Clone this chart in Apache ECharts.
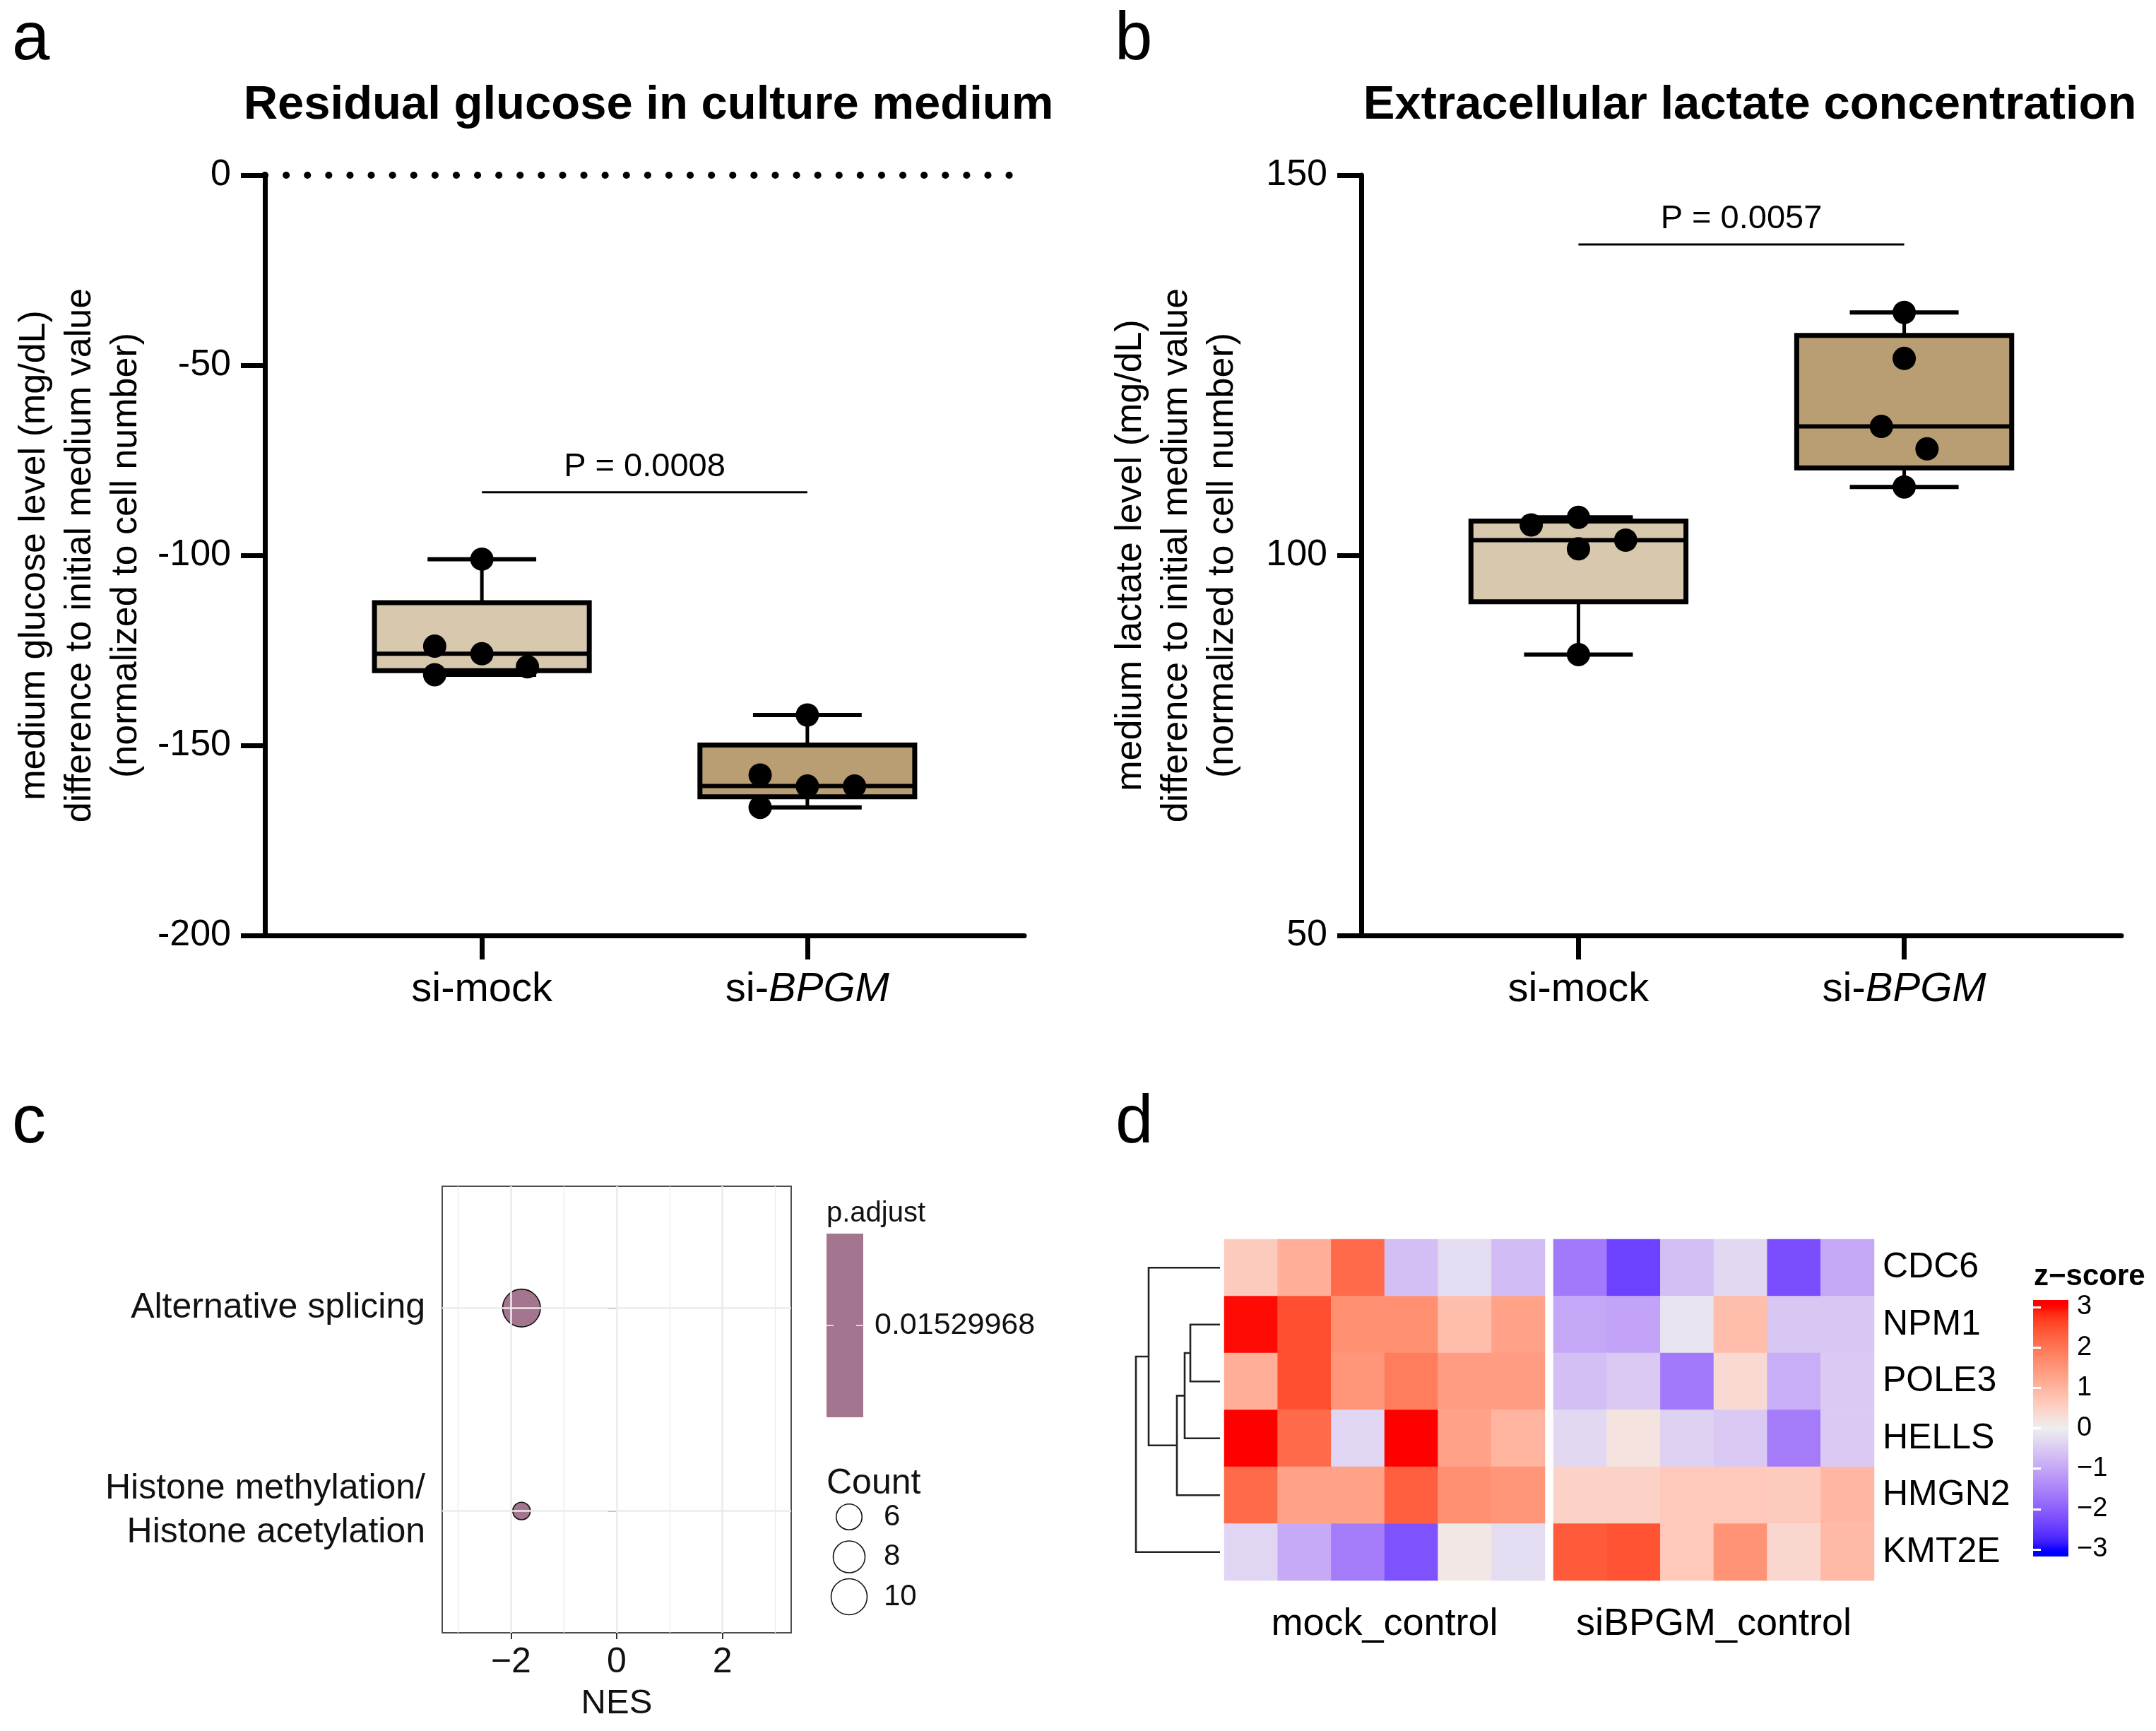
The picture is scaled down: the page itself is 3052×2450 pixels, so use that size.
<!DOCTYPE html>
<html lang="en">
<head>
<meta charset="UTF-8">
<title>BPGM knockdown: glucose, lactate, GSEA, heatmap</title>
<script src="https://cdn.jsdelivr.net/npm/echarts@6/dist/echarts.min.js"></script>
<style>
    *{
        padding:0;
        margin:0;
    }
    html,body{
        background:#fff;
    }
    #main{
        width:3052px;
        height:2450px;
    }
</style>
</head>
<body>
<div id="main"></div>
<script>
    // ---------- data ----------
    var groups = ['si-mock', 'si-BPGM'];

    // panel a: residual glucose (mg/dL difference)
    var glucoseMock = [-101, -123.9, -125.9, -129.3, -131.4];
    var glucoseBPGM = [-142, -157.8, -160.7, -160.7, -166.3];
    var glucoseMockJitter = [0, -0.145, 0, 0.14, -0.145];
    var glucoseBPGMJitter = [0, -0.145, 0, 0.145, -0.145];
    var glucoseP = ['P = 0.0008'];
    var glucosePBar = [[1, 2, -83.4]];

    // panel b: extracellular lactate
    var lactateMock = [105, 104, 102, 100.85, 86.95];
    var lactateBPGM = [131.95, 125.9, 116.95, 114, 109];
    var lactateMockJitter = [0, -0.145, 0.145, 0, 0];
    var lactateBPGMJitter = [0, 0, -0.07, 0.07, 0];
    var lactateP = ['P = 0.0057'];
    var lactatePBar = [[1, 2, 140.9]];

    // panel c: GSEA dot plot (bottom level first)
    var terms = ['Histone methylation/\nHistone acetylation', 'Alternative splicing'];
    var termNES = [-1.8, -1.8];
    var termCount = [5, 11];
    var termPadj = 0.01529968;
    var countBreaks = [6, 8, 10];
    var nesTicks = [-2, 0, 2];
    var nesMinor = [-3, -1, 1, 3];

    // panel d: z-score heatmap
    var genes = ['CDC6', 'NPM1', 'POLE3', 'HELLS', 'HMGN2', 'KMT2E'];
    var mockZ = [
        [0.6, 1.1, 2.15, -0.65, -0.25, -0.7],
        [2.95, 2.5, 1.6, 1.6, 0.85, 1.3],
        [1.1, 2.5, 1.5, 1.9, 1.4, 1.4],
        [3.0, 2.15, -0.35, 3.0, 1.3, 1.0],
        [2.15, 1.3, 1.3, 2.3, 1.6, 1.5],
        [-0.35, -0.95, -1.6, -2.2, 0.1, -0.25]
    ];
    var siZ = [
        [-1.65, -2.4, -0.65, -0.3, -2.25, -1.0],
        [-1.0, -1.05, -0.15, 0.85, -0.55, -0.55],
        [-0.65, -0.5, -1.65, 0.35, -0.9, -0.5],
        [-0.3, 0.2, -0.4, -0.5, -1.6, -0.5],
        [0.5, 0.5, 0.65, 0.65, 0.6, 0.95],
        [2.35, 2.45, 0.65, 1.55, 0.4, 0.9]
    ];
    // [left node, right node, height]; leaves are row indices, new nodes get 6, 7, ...
    var dendroMerges = [[1, 2, 4.2], [6, 3, 5.0], [7, 4, 6.1], [0, 8, 10.1], [9, 5, 11.9]];
    var zTicks = [-3, -2, -1, 0, 1, 2, 3];

    // ---------- helpers ----------
    var FONT = 'Liberation Sans';
    var MINUS = '\u2212';

    function quantile(sorted, p) {
        var pos = (sorted.length + 1) * p - 1;
        pos = Math.max(0, Math.min(sorted.length - 1, pos));
        var lo = Math.floor(pos), hi = Math.ceil(pos);
        return sorted[lo] + (sorted[hi] - sorted[lo]) * (pos - lo);
    }
    function boxStats(x, vals) {
        var s = vals.slice().sort(function (a, b) { return a - b; });
        return [x, quantile(s, 0.25), quantile(s, 0.5), quantile(s, 0.75), s[0], s[s.length - 1]];
    }
    function jittered(x, vals, jit) {
        return vals.map(function (v, i) { return [x + jit[i], v]; });
    }

    // colorRamp2 style LAB interpolation blue - grey - red
    function toLab(hex) {
        var c = [1, 3, 5].map(function (k) {
            var v = parseInt(hex.substr(k, 2), 16) / 255;
            return v <= 0.04045 ? v / 12.92 : Math.pow((v + 0.055) / 1.055, 2.4);
        });
        var X = (0.4124 * c[0] + 0.3576 * c[1] + 0.1805 * c[2]) / 0.95047;
        var Y = 0.2126 * c[0] + 0.7152 * c[1] + 0.0722 * c[2];
        var Z = (0.0193 * c[0] + 0.1192 * c[1] + 0.9505 * c[2]) / 1.08883;
        function f(t) { return t > 0.008856 ? Math.cbrt(t) : 7.787 * t + 16 / 116; }
        return [116 * f(Y) - 16, 500 * (f(X) - f(Y)), 200 * (f(Y) - f(Z))];
    }
    function fromLab(lab) {
        var fy = (lab[0] + 16) / 116, fx = fy + lab[1] / 500, fz = fy - lab[2] / 200;
        function finv(t) { return t > 0.206897 ? t * t * t : (t - 16 / 116) / 7.787; }
        var X = finv(fx) * 0.95047, Y = finv(fy), Z = finv(fz) * 1.08883;
        var rgb = [3.2406 * X - 1.5372 * Y - 0.4986 * Z,
                   -0.9689 * X + 1.8758 * Y + 0.0415 * Z,
                   0.0557 * X - 0.2040 * Y + 1.0570 * Z];
        return '#' + rgb.map(function (v) {
            v = Math.max(0, v);
            v = v <= 0.0031308 ? 12.92 * v : 1.055 * Math.pow(v, 1 / 2.4) - 0.055;
            v = Math.round(Math.min(1, v) * 255);
            return (v < 16 ? '0' : '') + v.toString(16);
        }).join('');
    }
    var zBreaks = [-3, 0, 3];
    var zLabs = ['#0000FF', '#EEEEEE', '#FF0000'].map(toLab);
    function zColor(v) {
        v = Math.max(zBreaks[0], Math.min(zBreaks[2], v));
        var k = v <= 0 ? 0 : 1;
        var t = (v - zBreaks[k]) / (zBreaks[k + 1] - zBreaks[k]);
        var a = zLabs[k], b = zLabs[k + 1];
        return fromLab([a[0] + (b[0] - a[0]) * t, a[1] + (b[1] - a[1]) * t, a[2] + (b[2] - a[2]) * t]);
    }
    var zStops = [];
    for (var s = 0; s <= 24; s++) zStops.push(zColor(-3 + s * 0.25));

    function countSize(c) {
        var lo = Math.min.apply(null, termCount), hi = Math.max.apply(null, termCount);
        var sz = 1 + 5 * Math.sqrt((c - lo) / (hi - lo));
        return 5.75 * sz + 19;
    }

    function heatData(mat) {
        var out = [];
        mat.forEach(function (row, r) {
            row.forEach(function (v, c) { out.push([c, r, v]); });
        });
        return out;
    }

    // dendrogram segments [hLeft, yLeft, hRight, yRight, h]
    var nodeY = genes.map(function (g, i) { return i; });
    var nodeH = genes.map(function () { return 0; });
    var dendroSegs = [];
    dendroMerges.forEach(function (m) {
        dendroSegs.push([nodeH[m[0]], nodeY[m[0]], nodeH[m[1]], nodeY[m[1]], m[2]]);
        nodeY.push((nodeY[m[0]] + nodeY[m[1]]) / 2);
        nodeH.push(m[2]);
    });

    // ---------- layout ----------
    var BOX_HALF = 0.33, CAP_HALF = 0.167;
    var boxFill = ['#D8C9AE', '#B89E72'];
    var GA = {left: 375, top: 248, width: 1075, height: 1076};
    var GB = {left: 1927, top: 248, width: 1076, height: 1076};
    var GC = {left: 626, top: 1679, width: 494, height: 632};
    var GDEN = {left: 1608, top: 1754, width: 119, height: 483};
    var GMOCK = {left: 1733, top: 1754, width: 454, height: 483};
    var GSI = {left: 2199, top: 1754, width: 454, height: 483};
    var GBAR = {left: 2878, top: 1840, width: 50, height: 363};
    var BAR_EXT = 3.175;

    function renderBox(params, api) {
        var x = api.value(0), q1 = api.value(1), med = api.value(2), q3 = api.value(3),
            lo = api.value(4), hi = api.value(5);
        var tl = api.coord([x - BOX_HALF, q3]), br = api.coord([x + BOX_HALF, q1]);
        function seg(x1, y1, x2, y2, w) {
            var a = api.coord([x1, y1]), b = api.coord([x2, y2]);
            return {type: 'line', shape: {x1: a[0], y1: a[1], x2: b[0], y2: b[1]},
                    style: {stroke: '#000', lineWidth: w}};
        }
        return {type: 'group', children: [
            seg(x, q3, x, hi, 5),
            seg(x, q1, x, lo, 5),
            seg(x - CAP_HALF, hi, x + CAP_HALF, hi, 6),
            seg(x - CAP_HALF, lo, x + CAP_HALF, lo, 6),
            {type: 'rect', shape: {x: tl[0], y: tl[1], width: br[0] - tl[0], height: br[1] - tl[1]},
             style: {fill: boxFill[params.dataIndex], stroke: '#000', lineWidth: 7}},
            seg(x - BOX_HALF, med, x + BOX_HALF, med, 6)
        ]};
    }
    function sigRenderer(labels) {
        return function (params, api) {
            var a = api.coord([api.value(0), api.value(2)]), b = api.coord([api.value(1), api.value(2)]);
            return {type: 'group', children: [
                {type: 'line', shape: {x1: a[0], y1: a[1], x2: b[0], y2: b[1]}, style: {stroke: '#000', lineWidth: 3}},
                {type: 'text', x: (a[0] + b[0]) / 2, y: a[1] - 36,
                 style: {text: labels[params.dataIndex], fontSize: 47, fontFamily: FONT, fill: '#000',
                         align: 'center', verticalAlign: 'middle'}}
            ]};
        };
    }
    function renderDendro(params, api) {
        var p1 = api.coord([api.value(0), api.value(1)]), p2 = api.coord([api.value(4), api.value(1)]),
            p3 = api.coord([api.value(4), api.value(3)]), p4 = api.coord([api.value(2), api.value(3)]);
        return {type: 'polyline', shape: {points: [p1, p2, p3, p4]},
                style: {stroke: '#222', lineWidth: 2.6, fill: null}};
    }

    function boxXAxis(grid) {
        return {
            gridIndex: grid, type: 'value', min: 1 / 3, max: 8 / 3,
            splitLine: {show: false},
            axisLine: {onZero: false, lineStyle: {color: '#000', width: 7}},
            axisTick: {customValues: [1, 2], length: 34, lineStyle: {color: '#000', width: 7}},
            axisLabel: {
                customValues: [1, 2], margin: 48,
                formatter: function (v) {
                    var name = groups[Math.round(v) - 1];
                    var parts = name.split('-');
                    return parts[1] === 'mock' ? '{n|' + name + '}' : '{n|' + parts[0] + '-}{i|' + parts[1] + '}';
                },
                rich: {
                    n: {fontSize: 58, fontFamily: FONT, color: '#000'},
                    i: {fontSize: 58, fontFamily: FONT, color: '#000', fontStyle: 'italic'}
                }
            }
        };
    }
    function boxYAxis(grid, min, max, name) {
        return {
            gridIndex: grid, type: 'value', min: min, max: max, interval: 50,
            splitLine: {show: false},
            axisLine: {show: true, lineStyle: {color: '#000', width: 7}},
            axisTick: {show: true, length: 34, lineStyle: {color: '#000', width: 7}},
            axisLabel: {fontSize: 52, fontFamily: FONT, color: '#000', margin: 48},
            name: name, nameLocation: 'middle', nameRotate: 90, nameGap: 164,
            nameTextStyle: {fontSize: 52, lineHeight: 65, fontFamily: FONT, color: '#000', align: 'center'}
        };
    }
    function hidden(grid, extra) {
        var ax = {gridIndex: grid, show: false};
        for (var k in extra) ax[k] = extra[k];
        return ax;
    }
    function minusFmt(v) { return v < 0 ? MINUS + Math.abs(v) : String(v); }

    var cGridLines = nesTicks.map(function (v) { return {xAxis: v, lineStyle: {width: 2.6}}; })
        .concat(nesMinor.map(function (v) { return {xAxis: v, lineStyle: {width: 1.3}}; }))
        .concat(terms.map(function (t, i) { return {yAxis: i + 1, lineStyle: {width: 2.6}}; }));

    var barStops = [];
    for (var k = 0; k <= 64; k++) barStops.push({offset: k / 64, color: zColor(BAR_EXT - 2 * BAR_EXT * k / 64)});

    var countLegend = [];
    countBreaks.forEach(function (c, i) {
        var cy = 2147 + i * 56.5;
        countLegend.push({type: 'circle', shape: {cx: 1202, cy: cy, r: countSize(c) / 2},
                          style: {fill: '#fff', stroke: '#111', lineWidth: 1.6}});
        countLegend.push({type: 'text', x: 1251, y: cy,
                          style: {text: String(c), fontSize: 42, fontFamily: FONT, fill: '#111', verticalAlign: 'middle'}});
    });

    function letter(t, left, top) {
        return {text: t, left: left, top: top, padding: 0,
                textStyle: {fontSize: 96, fontWeight: 'normal', fontFamily: FONT, color: '#000'}};
    }
    function plotTitle(t, cx) {
        return {text: t, left: cx, top: 116, padding: 0, textAlign: 'center',
                textStyle: {fontSize: 67, fontWeight: 'bold', fontFamily: FONT, color: '#000'}};
    }

    var myChart = echarts.init(document.getElementById('main'), null, {renderer: 'canvas'});
    var option = {
        backgroundColor: '#fff',
        animation: false,
        textStyle: {fontFamily: FONT},
        title: [
            letter('a', 17, 10), letter('b', 1578, 10), letter('c', 17, 1543), letter('d', 1579, 1543),
            plotTitle('Residual glucose in culture medium', 918),
            plotTitle('Extracellular lactate concentration', 2477),
            {text: 'z' + MINUS + 'score', left: 2879, top: 1786, padding: 0,
             textStyle: {fontSize: 42, fontWeight: 'bold', fontFamily: FONT, color: '#000'}}
        ],
        grid: [GA, GB, GC, GDEN, GMOCK, GSI, GBAR].map(function (g, i) {
            var o = {left: g.left, top: g.top, width: g.width, height: g.height, outerBoundsMode: 'none'};
            if (i === 2) { o.show = true; o.borderColor = '#4D4D4D'; o.borderWidth = 2; o.backgroundColor = '#fff'; }
            return o;
        }),
        xAxis: [
            boxXAxis(0),
            boxXAxis(1),
            {
                gridIndex: 2, type: 'value', min: -3.3, max: 3.3,
                splitLine: {show: false}, axisLine: {show: false},
                axisTick: {show: true, customValues: nesTicks, length: 9, lineStyle: {color: '#333', width: 2}},
                axisLabel: {customValues: nesTicks, formatter: minusFmt, fontSize: 50, color: '#111', margin: 17},
                name: 'NES', nameLocation: 'middle', nameGap: 76,
                nameTextStyle: {fontSize: 49, color: '#111', fontFamily: FONT}
            },
            hidden(3, {type: 'value', min: 0, max: 11.9, inverse: true}),
            {
                gridIndex: 4, type: 'category', data: mockZ[0].map(function (v, i) { return String(i + 1); }),
                axisLine: {show: false}, axisTick: {show: false}, axisLabel: {show: false},
                name: 'mock_control', nameLocation: 'middle', nameGap: 35,
                nameTextStyle: {fontSize: 54, color: '#000', fontFamily: FONT}
            },
            {
                gridIndex: 5, type: 'category', data: siZ[0].map(function (v, i) { return String(i + 1); }),
                axisLine: {show: false}, axisTick: {show: false}, axisLabel: {show: false},
                name: 'siBPGM_control', nameLocation: 'middle', nameGap: 35,
                nameTextStyle: {fontSize: 54, color: '#000', fontFamily: FONT}
            },
            hidden(6, {type: 'value', min: 0, max: 1})
        ],
        yAxis: [
            boxYAxis(0, -200, 0, 'medium glucose level (mg/dL)\ndifference to initial medium value\n(normalized to cell number)'),
            boxYAxis(1, 50, 150, 'medium lactate level (mg/dL)\ndifference to initial medium value\n(normalized to cell number)'),
            {
                gridIndex: 2, type: 'value', min: 0.4, max: 2.6,
                splitLine: {show: false}, axisLine: {show: false},
                axisTick: {show: true, customValues: terms.map(function (t, i) { return i + 1; }), length: 12,
                           lineStyle: {color: '#333', width: 2}},
                axisLabel: {
                    customValues: terms.map(function (t, i) { return i + 1; }),
                    formatter: function (v) { return terms[Math.round(v) - 1]; },
                    fontSize: 50, lineHeight: 62, color: '#111', margin: 24, align: 'right'
                }
            },
            hidden(3, {type: 'value', min: -0.5, max: genes.length - 0.5, inverse: true}),
            {gridIndex: 4, type: 'category', data: genes, inverse: true,
             axisLine: {show: false}, axisTick: {show: false}, axisLabel: {show: false}},
            {gridIndex: 5, type: 'category', data: genes, inverse: true, position: 'right',
             axisLine: {show: false}, axisTick: {show: false},
             axisLabel: {fontSize: 50, color: '#000', margin: 12}},
            {gridIndex: 6, type: 'value', min: -BAR_EXT, max: BAR_EXT, position: 'right', z: 10,
             splitLine: {show: false}, axisLine: {show: false},
             axisTick: {customValues: zTicks, inside: true, length: 11, lineStyle: {color: '#fff', width: 3}},
             axisLabel: {customValues: zTicks, formatter: minusFmt, fontSize: 38, color: '#000', margin: 12}},
            {gridIndex: 6, type: 'value', min: -BAR_EXT, max: BAR_EXT, position: 'left', z: 10,
             splitLine: {show: false}, axisLine: {show: false}, axisLabel: {show: false},
             axisTick: {customValues: zTicks, inside: true, length: 11, lineStyle: {color: '#fff', width: 3}}}
        ],
        visualMap: [{
            type: 'continuous', show: false, min: -3, max: 3, seriesIndex: [10, 11],
            inRange: {color: zStops}
        }],
        graphic: [
            {type: 'rect', z: 1, shape: {x: GBAR.left, y: GBAR.top, width: GBAR.width, height: GBAR.height},
             style: {fill: new echarts.graphic.LinearGradient(0, 0, 0, 1, barStops)}},
            {type: 'text', x: 1170, y: 1718,
             style: {text: 'p.adjust', fontSize: 40, fontFamily: FONT, fill: '#111', verticalAlign: 'middle'}},
            {type: 'rect', shape: {x: 1170, y: 1746, width: 52, height: 260}, style: {fill: '#A4758F'}},
            {type: 'line', shape: {x1: 1170, y1: 1876, x2: 1180, y2: 1876}, style: {stroke: '#E8D8E0', lineWidth: 2}},
            {type: 'line', shape: {x1: 1212, y1: 1876, x2: 1222, y2: 1876}, style: {stroke: '#E8D8E0', lineWidth: 2}},
            {type: 'text', x: 1238, y: 1876,
             style: {text: String(termPadj), fontSize: 43, fontFamily: FONT, fill: '#111', verticalAlign: 'middle'}},
            {type: 'text', x: 1170, y: 2100,
             style: {text: 'Count', fontSize: 50, fontFamily: FONT, fill: '#111', verticalAlign: 'middle'}}
        ].concat(countLegend),
        series: [
            // panel a
            {type: 'custom', xAxisIndex: 0, yAxisIndex: 0, z: 2, renderItem: renderBox,
             data: [boxStats(1, glucoseMock), boxStats(2, glucoseBPGM)]},
            {type: 'scatter', xAxisIndex: 0, yAxisIndex: 0, z: 3, symbolSize: 33,
             itemStyle: {color: '#000', opacity: 1},
             data: jittered(1, glucoseMock, glucoseMockJitter).concat(jittered(2, glucoseBPGM, glucoseBPGMJitter)),
             markLine: {silent: true, symbol: 'none', label: {show: false},
                        lineStyle: {color: '#000', width: 10, type: [0.1, 30], cap: 'round', opacity: 1},
                        data: [{yAxis: 0}]}},
            {type: 'custom', xAxisIndex: 0, yAxisIndex: 0, z: 3, renderItem: sigRenderer(glucoseP), data: glucosePBar},
            // panel b
            {type: 'custom', xAxisIndex: 1, yAxisIndex: 1, z: 2, renderItem: renderBox,
             data: [boxStats(1, lactateMock), boxStats(2, lactateBPGM)]},
            {type: 'scatter', xAxisIndex: 1, yAxisIndex: 1, z: 3, symbolSize: 33,
             itemStyle: {color: '#000', opacity: 1},
             data: jittered(1, lactateMock, lactateMockJitter).concat(jittered(2, lactateBPGM, lactateBPGMJitter))},
            {type: 'custom', xAxisIndex: 1, yAxisIndex: 1, z: 3, renderItem: sigRenderer(lactateP), data: lactatePBar},
            // panel c
            {type: 'scatter', xAxisIndex: 2, yAxisIndex: 2, z: 1, data: [],
             markLine: {silent: true, symbol: 'none', label: {show: false}, animation: false,
                        lineStyle: {color: '#EBEBEB', type: 'solid', opacity: 1}, data: cGridLines}},
            {type: 'scatter', xAxisIndex: 2, yAxisIndex: 2, z: 3,
             data: terms.map(function (t, i) { return [termNES[i], i + 1, termCount[i]]; }),
             symbolSize: function (d) { return countSize(d[2]); },
             itemStyle: {color: '#A4758F', borderColor: '#111', borderWidth: 1.6, opacity: 1}},
            // panel d
            {type: 'custom', xAxisIndex: 3, yAxisIndex: 3, renderItem: renderDendro, data: dendroSegs},
            {type: 'scatter', xAxisIndex: 6, yAxisIndex: 6, data: []},
            {type: 'heatmap', xAxisIndex: 4, yAxisIndex: 4, data: heatData(mockZ), itemStyle: {borderWidth: 0}},
            {type: 'heatmap', xAxisIndex: 5, yAxisIndex: 5, data: heatData(siZ), itemStyle: {borderWidth: 0}}
        ]
    };
    myChart.setOption(option);
</script>
</body>
</html>
